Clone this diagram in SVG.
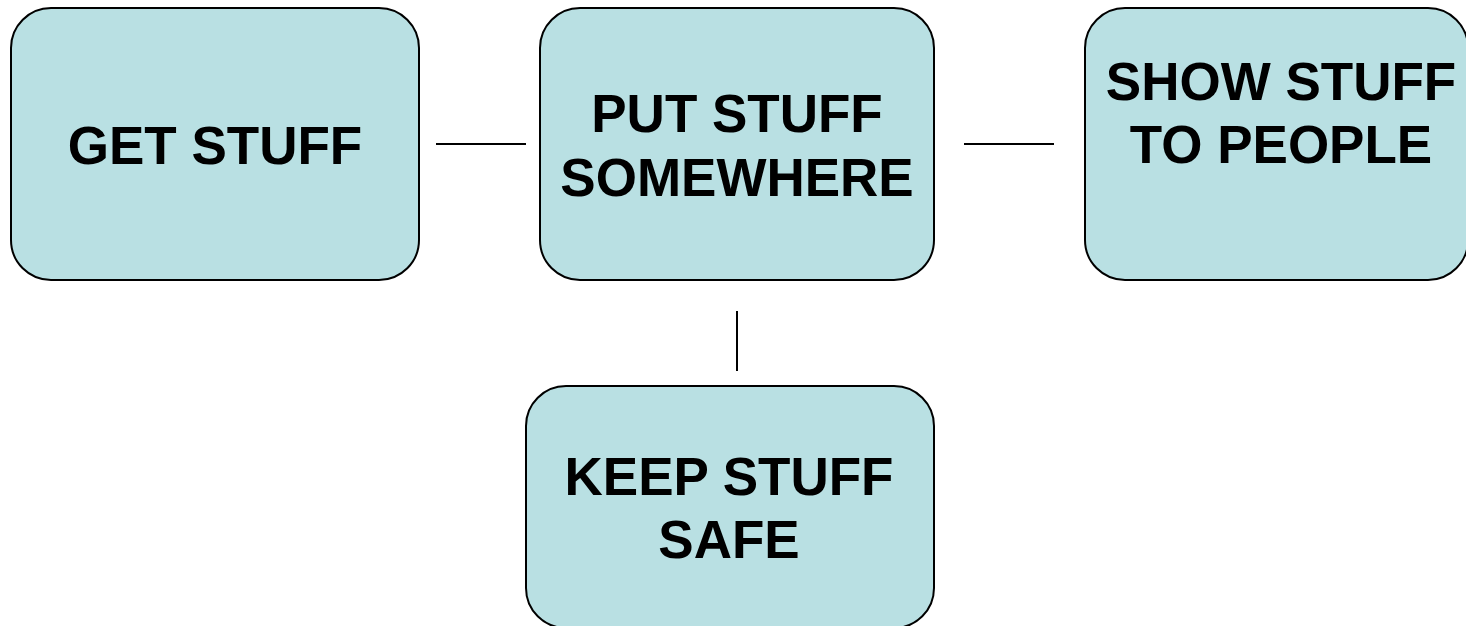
<svg xmlns="http://www.w3.org/2000/svg" width="1466" height="626" viewBox="0 0 1466 626">
<style>
.box{fill:#b9e0e3;stroke:#000;stroke-width:2}
.t{font-family:"Liberation Sans",Arial,sans-serif;font-weight:bold;font-size:53px;fill:#000;text-anchor:middle}
.c{stroke:#000;stroke-width:2;fill:none}
</style>
<rect width="1466" height="626" fill="#fff"/>
<g id="connectors">
<line class="c" x1="436" y1="144" x2="526" y2="144"/>
<line class="c" x1="964" y1="144" x2="1054" y2="144"/>
<line class="c" x1="737" y1="311" x2="737" y2="371"/>
</g>
<g id="get-stuff">
<rect class="box" x="11" y="8" width="408" height="272" rx="40"/>
<text class="t" x="215" y="164">GET STUFF</text>
</g>
<g id="put-stuff">
<rect class="box" x="540" y="8" width="394" height="272" rx="40"/>
<text class="t" x="737" y="132">PUT STUFF</text>
<text class="t" x="737" y="196">SOMEWHERE</text>
</g>
<g id="show-stuff">
<rect class="box" x="1085" y="8" width="383" height="272" rx="40"/>
<text class="t" x="1281" y="100">SHOW STUFF</text>
<text class="t" x="1281" y="163">TO PEOPLE</text>
</g>
<g id="keep-stuff">
<rect class="box" x="526" y="386" width="408" height="242" rx="40"/>
<text class="t" x="729" y="495">KEEP STUFF</text>
<text class="t" x="729" y="558">SAFE</text>
</g>
</svg>
